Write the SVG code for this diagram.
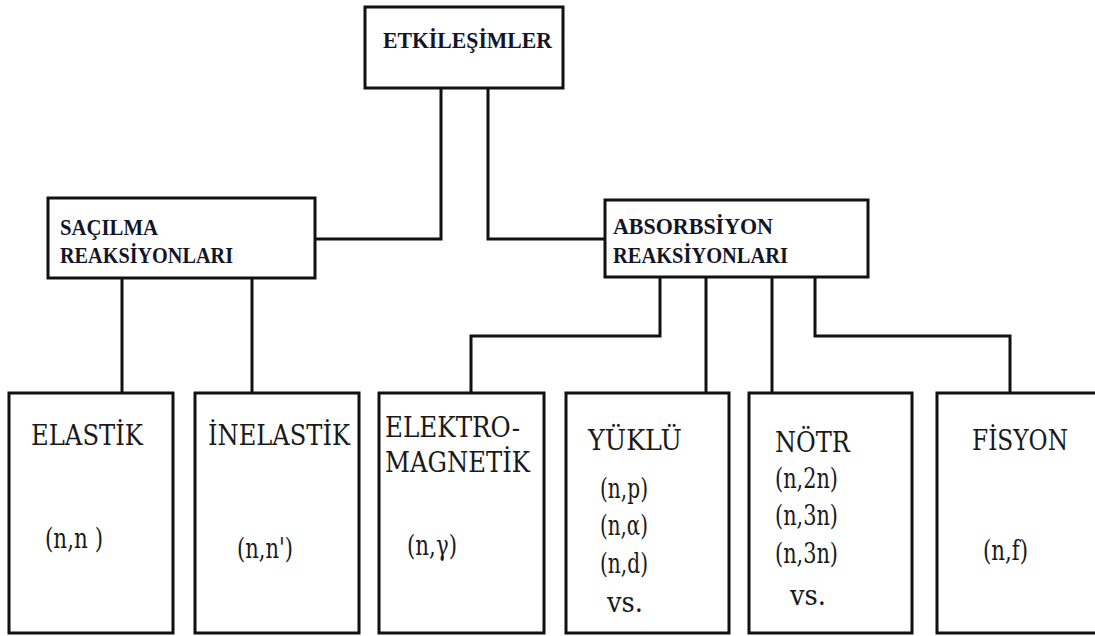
<svg xmlns="http://www.w3.org/2000/svg" width="1095" height="636" viewBox="0 0 1095 636">
<style>
.box{fill:#fff;stroke:#111;stroke-width:3}
.con{fill:none;stroke:#111;stroke-width:3;stroke-linejoin:miter}
.hd{font-family:'Liberation Serif','DejaVu Serif',serif;font-weight:bold;font-size:24px;fill:#141428}
.lb{font-family:'DejaVu Serif','Liberation Serif',serif;font-size:27px;fill:#1a1a1a}
</style>
<rect width="1095" height="636" fill="#fff"/>
<g id="connectors">
<path class="con" d="M441,88 V239 H315"/>
<path class="con" d="M488,88 V239 H605"/>
<path class="con" d="M122,278 V393"/>
<path class="con" d="M252,278 V393"/>
<path class="con" d="M660,277 V336 H471 V393"/>
<path class="con" d="M706,277 V393"/>
<path class="con" d="M772,277 V393"/>
<path class="con" d="M815,277 V336 H1010 V393"/>
</g>
<g id="etkilesimler">
<rect class="box" x="365" y="7" width="198" height="81"/>
<text class="hd" x="383" y="48" font-size="26" textLength="169" lengthAdjust="spacingAndGlyphs">ETKİLEŞİMLER</text>
</g>
<g id="sacilma">
<rect class="box" x="48" y="198" width="267" height="80"/>
<text class="hd" x="60" y="235" textLength="98" lengthAdjust="spacingAndGlyphs">SAÇILMA</text>
<text class="hd" x="60" y="263" textLength="173" lengthAdjust="spacingAndGlyphs">REAKSİYONLARI</text>
</g>
<g id="absorbsiyon">
<rect class="box" x="605" y="200" width="263" height="77"/>
<text class="hd" x="613" y="234" textLength="160" lengthAdjust="spacingAndGlyphs">ABSORBSİYON</text>
<text class="hd" x="613" y="263" textLength="175" lengthAdjust="spacingAndGlyphs">REAKSİYONLARI</text>
</g>
<g id="elastik">
<rect class="box" x="9" y="393" width="164" height="240"/>
<text class="lb" x="31" y="445" textLength="112" lengthAdjust="spacingAndGlyphs">ELASTİK</text>
<text class="lb" x="45" y="548" textLength="58" lengthAdjust="spacingAndGlyphs">(n,n )</text>
</g>
<g id="inelastik">
<rect class="box" x="195" y="393" width="164" height="240"/>
<text class="lb" x="208" y="445" textLength="142" lengthAdjust="spacingAndGlyphs">İNELASTİK</text>
<text class="lb" x="237" y="558" textLength="56" lengthAdjust="spacingAndGlyphs">(n,n')</text>
</g>
<g id="elektromagnetik">
<rect class="box" x="379" y="393" width="165" height="240"/>
<text class="lb" x="385" y="437" textLength="135" lengthAdjust="spacingAndGlyphs">ELEKTRO-</text>
<text class="lb" x="385" y="472" textLength="145" lengthAdjust="spacingAndGlyphs">MAGNETİK</text>
<text class="lb" x="407" y="555" textLength="50" lengthAdjust="spacingAndGlyphs">(n,γ)</text>
</g>
<g id="yuklu">
<rect class="box" x="566" y="393" width="163" height="240"/>
<text class="lb" x="588" y="450" textLength="94" lengthAdjust="spacingAndGlyphs">YÜKLÜ</text>
<text class="lb" x="600" y="498" textLength="48" lengthAdjust="spacingAndGlyphs">(n,p)</text>
<text class="lb" x="600" y="535" textLength="48" lengthAdjust="spacingAndGlyphs">(n,α)</text>
<text class="lb" x="600" y="573" textLength="48" lengthAdjust="spacingAndGlyphs">(n,d)</text>
<text class="lb" x="607" y="612" textLength="36" lengthAdjust="spacingAndGlyphs">vs.</text>
</g>
<g id="notr">
<rect class="box" x="749" y="393" width="163" height="240"/>
<text class="lb" x="775" y="452" textLength="75" lengthAdjust="spacingAndGlyphs">NÖTR</text>
<text class="lb" x="775" y="488" textLength="63" lengthAdjust="spacingAndGlyphs">(n,2n)</text>
<text class="lb" x="775" y="525" textLength="63" lengthAdjust="spacingAndGlyphs">(n,3n)</text>
<text class="lb" x="775" y="563" textLength="63" lengthAdjust="spacingAndGlyphs">(n,3n)</text>
<text class="lb" x="790" y="605" textLength="36" lengthAdjust="spacingAndGlyphs">vs.</text>
</g>
<g id="fisyon">
<rect class="box" x="937" y="393" width="163" height="240"/>
<text class="lb" x="972" y="450" textLength="96" lengthAdjust="spacingAndGlyphs">FİSYON</text>
<text class="lb" x="983" y="560" textLength="45" lengthAdjust="spacingAndGlyphs">(n,f)</text>
</g>
</svg>
